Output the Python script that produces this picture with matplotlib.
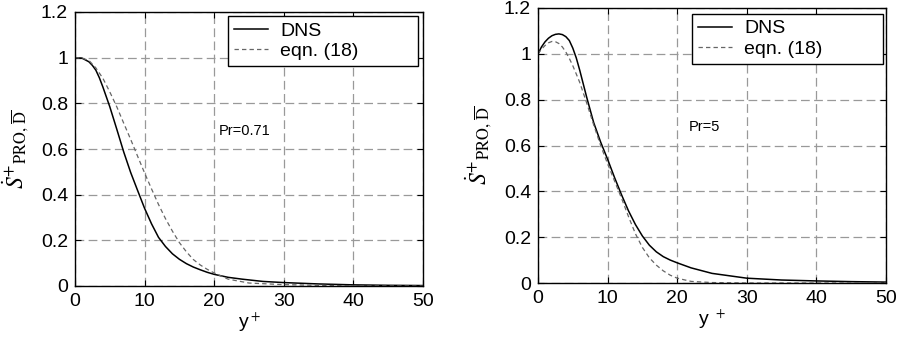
import matplotlib
matplotlib.use("Agg")
import matplotlib.pyplot as plt

plt.rcParams['font.family'] = ['Liberation Sans', 'DejaVu Sans']
plt.rcParams['mathtext.fontset'] = 'stix'

# values
# Pr = 0.71
x_l_dns = [0, 1, 2, 2.5, 3, 3.5, 4, 5, 6, 7, 8, 9, 10, 11, 12, 13, 14, 15, 16, 17, 18, 19, 20,
           22, 24, 27, 30, 35, 40, 45, 50]
y_l_dns = [1.0, 0.998, 0.982, 0.966, 0.945, 0.912, 0.872, 0.785, 0.687, 0.587, 0.497, 0.418,
           0.34, 0.272, 0.213, 0.173, 0.141, 0.117, 0.098, 0.083, 0.071, 0.06, 0.051,
           0.038, 0.03, 0.02, 0.015, 0.009, 0.005, 0.003, 0.002]
x_l_eqn = [0, 1, 2, 3, 4, 5, 6, 7, 8, 9, 10, 11, 12, 13, 14, 15, 16, 17, 18, 19, 20,
           22, 25, 30, 35, 40, 50]
y_l_eqn = [1.0, 0.998, 0.988, 0.955, 0.91, 0.85, 0.785, 0.713, 0.642, 0.568, 0.495, 0.425,
           0.357, 0.295, 0.24, 0.19, 0.15, 0.116, 0.092, 0.073, 0.057,
           0.03, 0.013, 0.006, 0.003, 0.001, 0.0]

# Pr = 5
x_r_dns = [0, 0.5, 1, 1.5, 2, 2.5, 3, 3.5, 4, 4.5, 5, 5.5, 6, 7, 8, 9, 10, 11, 12, 13, 14,
           15, 16, 17, 18, 19, 20, 22, 25, 30, 35, 40, 45, 50]
y_r_dns = [1.0, 1.03, 1.052, 1.068, 1.079, 1.085, 1.087, 1.084, 1.075, 1.058, 1.025, 0.982,
           0.928, 0.81, 0.70, 0.615, 0.54, 0.46, 0.385, 0.315, 0.255,
           0.205, 0.165, 0.136, 0.115, 0.1, 0.088, 0.066, 0.042, 0.021, 0.013, 0.009, 0.006, 0.004]
x_r_eqn = [0, 0.5, 1, 1.5, 2, 2.5, 3, 3.5, 4, 4.5, 5, 5.5, 6, 7, 8, 9, 10, 11, 12, 13, 14,
           15, 16, 17, 18, 19, 20, 22, 25, 30, 50]
y_r_eqn = [1.0, 1.02, 1.036, 1.048, 1.054, 1.053, 1.045, 1.03, 1.008, 0.98, 0.948, 0.912,
           0.875, 0.785, 0.69, 0.6, 0.52, 0.445, 0.37, 0.29, 0.215,
           0.155, 0.11, 0.078, 0.053, 0.034, 0.021, 0.007, 0.002, 0.0, 0.0]

xticks = [0, 10, 20, 30, 40, 50]
yticks = [0, 0.2, 0.4, 0.6, 0.8, 1.0, 1.2]
yticklabels = ['0', '0.2', '0.4', '0.6', '0.8', '1', '1.2']

ylab = r'$\dot{S}^{+}{}_{\mathrm{PRO},\,\overline{\mathrm{D}}}$'

fig = plt.figure(figsize=(8.99, 3.44), dpi=100)
ax1 = fig.add_axes([75 / 899, 58 / 344, 348 / 899, 274 / 344])
ax2 = fig.add_axes([538 / 899, 61 / 344, 348 / 899, 275 / 344])

panels = [
    (ax1, x_l_dns, y_l_dns, x_l_eqn, y_l_eqn, 'Pr=0.71', 20.7, 'y$^+$', (0.44, 0.5, 0.546, 0.486)),
    (ax2, x_r_dns, y_r_dns, x_r_eqn, y_r_eqn, 'Pr=5', 21.7, 'y $^+$', (0.4425, 0.5, 0.5485, 0.48)),
]

for ax, xd, yd, xe, ye, txt, tx, xlab, lbox in panels:
    ax.plot(xd, yd, color='black', lw=1.1, label='DNS')
    ax.plot(xe, ye, color='#666666', lw=0.9, ls=(0, (3.5, 2.5)), label='eqn. (18)')
    ax.set_xlim(0, 50)
    ax.set_ylim(0, 1.2)
    ax.set_xticks(xticks)
    ax.set_yticks(yticks)
    ax.set_yticklabels(yticklabels)
    ax.tick_params(direction='in', top=True, right=True, labelsize=14, length=4, pad=5)
    ax.grid(True, color='#999999', ls=(0, (7, 3.5)), lw=0.9)
    for s in ax.spines.values():
        s.set_linewidth(1.0)
    ax.text(tx, 0.68, txt, fontsize=10.5, va='center', ha='left')
    ax.set_xlabel(xlab, fontsize=14, labelpad=0)
    ax.set_ylabel(ylab, fontsize=17, labelpad=7)
    leg = ax.legend(loc='upper left', bbox_to_anchor=lbox, mode='expand', fontsize=14,
                    fancybox=False, framealpha=1, edgecolor='black', borderaxespad=0,
                    handlelength=1.75, handletextpad=0.6, labelspacing=0.15, borderpad=0.32)
    leg.get_frame().set_linewidth(1.0)

fig.savefig('out.png', dpi=100)
